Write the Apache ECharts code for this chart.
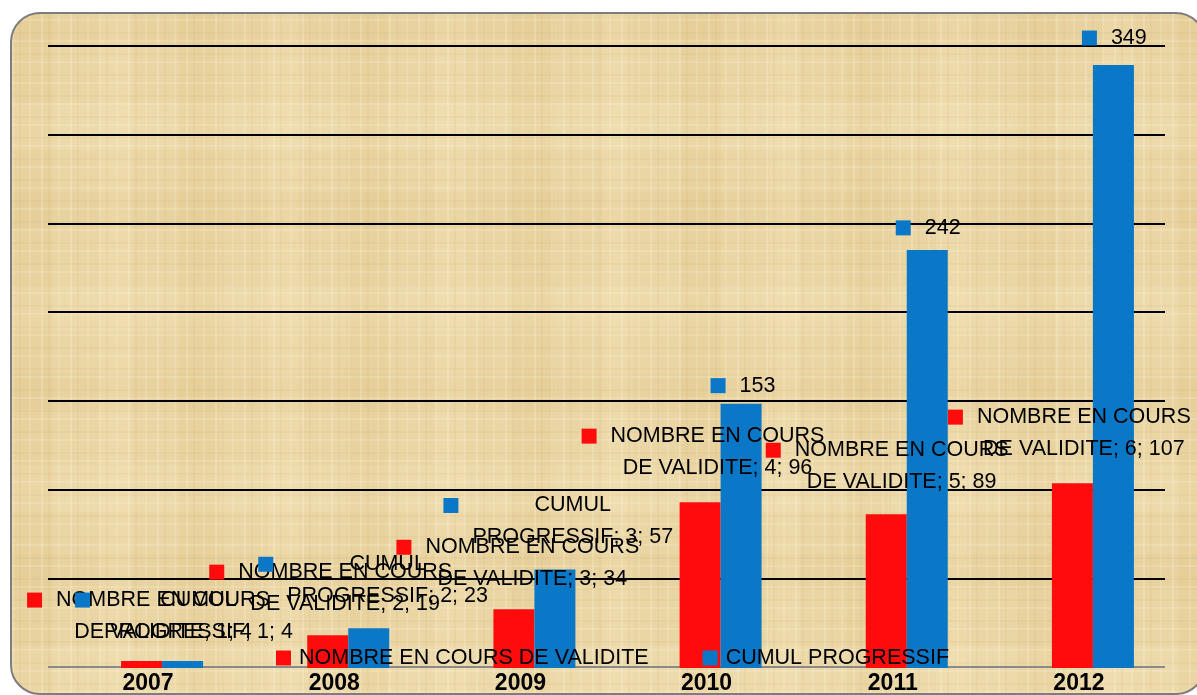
<!DOCTYPE html>
<html>
<head>
<meta charset="utf-8">
<script src="https://cdn.jsdelivr.net/npm/echarts@6/dist/echarts.min.js"></script>
<style>
  html, body { margin: 0; padding: 0; background: #fff; }
  #wrap { position: relative; width: 1197px; height: 695px; overflow: hidden; }
  #frame {
    position: absolute; left: 10px; top: 12px; width: 1196px; height: 683px;
    box-sizing: border-box; border: 2px solid #7d7d7d; border-radius: 30px;
    background-color: #ead6a5;
    background-image:
      repeating-linear-gradient(90deg, rgba(255,248,225,.22) 0 2px, transparent 2px 7px, rgba(170,130,60,.06) 7px 9px, transparent 9px 17px, rgba(255,248,225,.15) 17px 19px, transparent 19px 29px),
      repeating-linear-gradient(0deg, rgba(255,248,225,.18) 0 2px, transparent 2px 8px, rgba(160,120,50,.06) 8px 10px, transparent 10px 21px),
      repeating-linear-gradient(90deg, rgba(210,175,100,.10) 0 41px, transparent 41px 89px, rgba(255,240,205,.12) 89px 120px, transparent 120px 167px),
      repeating-linear-gradient(0deg, rgba(255,242,210,.14) 0 47px, transparent 47px 103px, rgba(205,170,95,.08) 103px 139px, transparent 139px 181px);
  }
  #chart { position: absolute; left: 0; top: 0; width: 1197px; height: 695px; }
</style>
</head>
<body>
<div id="wrap">
  <div id="frame"></div>
  <div id="chart"></div>
</div>
<script>
var years = ['2007', '2008', '2009', '2010', '2011', '2012'];
var enCours = [4, 19, 34, 96, 89, 107];
var cumul = [4, 23, 57, 153, 242, 349];
var serieNames = ['NOMBRE EN COURS DE VALIDITE', 'CUMUL PROGRESSIF'];

// where each data label sits, relative to the top-left of its bar
var redLabelPos = [[-94, -77], [-98, -79], [-97, -78], [-98, -82], [-100, -80], [-104, -82]];
var blueLabelPos = [[-87, -77], [-90, -80], [-91, -80], [-10, -34], [-11, -38], [-11, -43]];
var blueShort = [false, false, false, true, true, true];

var RED = '#fe0c0c', BLUE = '#0b77c7';
var FONT = "'Liberation Sans', Arial, sans-serif";

function richFor(color) {
  return {
    k: { width: 15, height: 15, backgroundColor: color, align: 'left', verticalAlign: 'middle' },
    g: { width: 14, height: 15, align: 'left' },
    s: { width: 29, height: 15, align: 'left' },
    t: { fontSize: 21.5, lineHeight: 32, color: '#000', fontFamily: FONT, align: 'center' }
  };
}

var redData = enCours.map(function (v, i) {
  return {
    value: v,
    label: {
      position: redLabelPos[i],
      formatter: '{k|}{g|}{t|NOMBRE EN COURS}\n{s|}{t|DE VALIDITE; ' + (i + 1) + '; ' + v + '}'
    }
  };
});

var blueData = cumul.map(function (v, i) {
  var txt = blueShort[i]
    ? '{k|}{g|}{t|' + v + '}'
    : '{k|}{g|}{t|CUMUL}\n{s|}{t|PROGRESSIF; ' + (i + 1) + '; ' + v + '}';
  return { value: v, label: { position: blueLabelPos[i], formatter: txt } };
});

var lineColors = ['#8a8a8a', '#000', '#000', '#000', '#000', '#000', '#000', '#000'];

var chart = echarts.init(document.getElementById('chart'));
chart.setOption({
  backgroundColor: 'transparent',
  animation: false,
  legend: {
    data: serieNames,
    left: 276,
    top: 645,
    padding: 0,
    icon: 'rect',
    itemWidth: 15,
    itemHeight: 15,
    itemGap: 54,
    textStyle: { fontSize: 21.5, color: '#000', fontFamily: FONT, lineHeight: 26, padding: [0, 0, 0, 3] }
  },
  grid: [
    { left: 48, top: 46, width: 1117, height: 622 },
    { left: 69, top: 46, width: 1117, height: 622 }
  ],
  xAxis: [{
    gridIndex: 0,
    type: 'category',
    data: years,
    axisLine: { show: false },
    axisTick: { show: false },
    axisLabel: {
      margin: 5,
      fontSize: 23,
      fontWeight: 'bold',
      color: '#000',
      fontFamily: FONT,
      padding: [0, 0, 0, 14]
    }
  }, {
    gridIndex: 1,
    type: 'category',
    data: years,
    show: false
  }],
  yAxis: [{
    gridIndex: 0,
    type: 'value',
    min: 0,
    max: 360,
    interval: 360 / 7,
    axisLabel: { show: false },
    axisLine: { show: false },
    axisTick: { show: false },
    splitLine: { show: true, lineStyle: { color: lineColors, width: 2 } }
  }, {
    gridIndex: 1,
    type: 'value',
    min: 0,
    max: 360,
    show: false,
    splitLine: { show: false }
  }],
  series: [{
    name: serieNames[0],
    type: 'bar',
    xAxisIndex: 1,
    yAxisIndex: 1,
    barWidth: 41,
    barGap: '0%',
    itemStyle: { color: RED },
    label: { show: true, rich: richFor(RED) },
    data: redData
  }, {
    name: serieNames[1],
    type: 'bar',
    xAxisIndex: 1,
    yAxisIndex: 1,
    barWidth: 41,
    barGap: '0%',
    itemStyle: { color: BLUE },
    label: { show: true, rich: richFor(BLUE) },
    data: blueData
  }]
});
</script>
</body>
</html>
